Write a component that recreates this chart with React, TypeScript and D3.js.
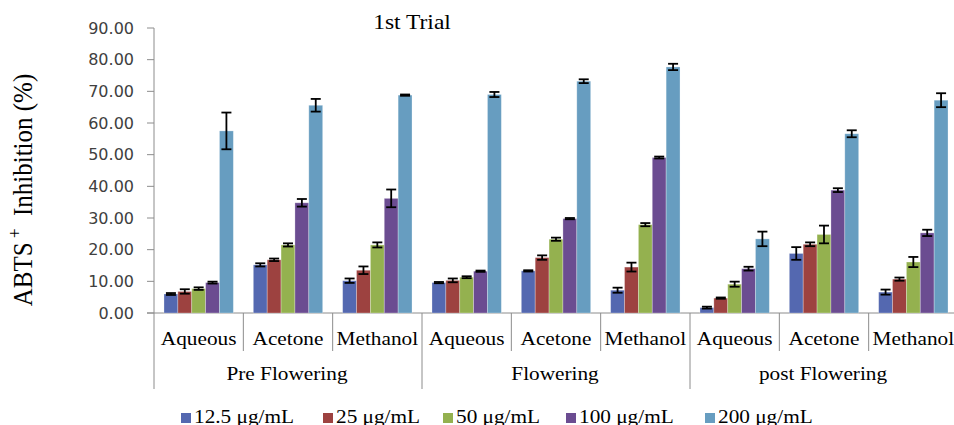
import React from "react";
import * as d3 from "d3";

const groups = ["Pre Flowering", "Flowering", "post Flowering"];
const solvents = ["Aqueous", "Acetone", "Methanol"];
const seriesNames = ["12.5 μg/mL", "25 μg/mL", "50 μg/mL", "100 μg/mL", "200 μg/mL"];
const yTicks = [0, 10, 20, 30, 40, 50, 60, 70, 80, 90];

const s12_5 = [6.0, 15.2, 10.2, 9.6, 13.3, 7.2, 1.7, 18.8, 6.6];
const s25 = [6.8, 16.8, 13.5, 10.3, 17.5, 14.5, 4.7, 21.7, 10.7];
const s50 = [7.7, 21.5, 21.5, 11.3, 23.3, 27.9, 9.1, 24.8, 16.1];
const s100 = [9.6, 34.8, 36.2, 13.2, 29.8, 49.1, 14.0, 38.8, 25.3];
const s200 = [57.5, 65.6, 68.8, 69.0, 73.2, 77.7, 23.4, 56.6, 67.2];

const e12_5 = [0.3, 0.5, 0.7, 0.2, 0.2, 0.8, 0.3, 2.0, 0.8];
const e25 = [0.7, 0.4, 1.2, 0.6, 0.7, 1.4, 0.2, 0.6, 0.5];
const e50 = [0.4, 0.5, 0.8, 0.3, 0.5, 0.5, 0.8, 2.8, 1.6];
const e100 = [0.3, 1.2, 2.8, 0.2, 0.2, 0.3, 0.6, 0.6, 1.0];
const e200 = [5.8, 2.0, 0.2, 0.8, 0.6, 1.0, 2.3, 1.1, 2.2];

const values = [s12_5, s25, s50, s100, s200];
const errors = [e12_5, e25, e50, e100, e200];
const colors = ["#5468B0", "#9D4240", "#94B14F", "#6B4C91", "#679DC0"];

const W = 954;
const H = 425;
const left = 154;
const right = 958;
const top = 28;
const bottom = 313;
const legendX = [181, 323, 443, 566, 705];
const SX = 1.12;

const serif = "'Liberation Serif', 'Times New Roman', serif";
const sans = "'DejaVu Sans', Verdana, sans-serif";

function T(props: { x: number; y: number; size: number; anchor?: string; children: React.ReactNode }) {
  return (
    <text
      transform={`translate(${props.x},${props.y}) scale(${SX},1)`}
      textAnchor={props.anchor || "start"}
      fontFamily={serif}
      fontSize={props.size}
      fill="#000"
    >
      {props.children}
    </text>
  );
}

export default function App() {
  const cats = groups.flatMap((g) => solvents.map((s) => g + "|" + s));
  const x = d3.scaleBand<string>().domain(cats).range([left, right]).paddingInner(0).paddingOuter(0);
  const bw = x.bandwidth();
  const xs = d3.scaleBand<string>().domain(seriesNames).range([0, bw]).paddingInner(0).paddingOuter(0.72);
  const y = d3.scaleLinear().domain([0, 90]).range([bottom, top]);
  const gx = d3.scaleBand<string>().domain(groups).range([left, right]);

  const axisColor = "#8c8c8c";

  return (
    <svg width={W} height={H} style={{ position: "absolute", left: 0, top: 0, background: "#fff" }}>
      <rect x={0} y={0} width={W} height={H} fill="#fff" />
      {/* title */}
      <T x={412} y={29} size={21} anchor="middle">1st Trial</T>
      {/* y axis title */}
      <text
        transform={`translate(32,${190}) scale(${SX},1) rotate(-90)`}
        textAnchor="middle"
        fontFamily={serif}
        fontSize={25}
        fill="#000"
      >
        ABTS
        <tspan fontSize={17} dy={-10}>{"\u00a0+"}</tspan>
        <tspan dy={10}>{"\u00a0 Inhibition (%)"}</tspan>
      </text>
      {/* y ticks */}
      {yTicks.map((t) => (
        <g key={t}>
          <line x1={left - 7} x2={left} y1={y(t)} y2={y(t)} stroke={axisColor} strokeWidth={1} />
          <text x={left - 20} y={y(t) + 5.5} textAnchor="end" fontFamily={sans} fontSize={16} fill="#404040">
            {t.toFixed(2)}
          </text>
        </g>
      ))}
      <line x1={left} x2={left} y1={top} y2={389} stroke={axisColor} strokeWidth={1} />
      <line x1={left - 7} x2={right} y1={bottom} y2={bottom} stroke={axisColor} strokeWidth={1} />
      {/* category separators */}
      {cats.map((c, i) =>
        i === 0 ? null : (
          <line
            key={c}
            x1={x(c)!}
            x2={x(c)!}
            y1={bottom}
            y2={i % 3 === 0 ? 389 : 351}
            stroke={axisColor}
            strokeWidth={1}
          />
        )
      )}
      {/* bars */}
      {seriesNames.map((s, si) => (
        <g key={s}>
          {cats.map((c, ci) => {
            const v = values[si][ci];
            const bx = x(c)! + xs(s)!;
            return (
              <rect
                key={c}
                x={bx}
                y={y(v)}
                width={xs.bandwidth()}
                height={bottom - y(v)}
                fill={colors[si]}
                stroke="#ffffff"
                strokeOpacity={0.35}
                strokeWidth={0.8}
              />
            );
          })}
        </g>
      ))}
      {/* error bars */}
      {seriesNames.map((s, si) => (
        <g key={s + "e"} stroke="#000" strokeWidth={1.8}>
          {cats.map((c, ci) => {
            const v = values[si][ci];
            const e = errors[si][ci];
            const cx = x(c)! + xs(s)! + xs.bandwidth() / 2;
            return (
              <g key={c}>
                <line x1={cx} x2={cx} y1={y(v + e)} y2={y(v - e)} />
                <line x1={cx - 5} x2={cx + 5} y1={y(v + e)} y2={y(v + e)} />
                <line x1={cx - 5} x2={cx + 5} y1={y(v - e)} y2={y(v - e)} />
              </g>
            );
          })}
        </g>
      ))}
      {/* category labels */}
      {cats.map((c) => (
        <T key={c + "l"} x={x(c)! + bw / 2} y={344.5} size={19} anchor="middle">
          {c.split("|")[1]}
        </T>
      ))}
      {groups.map((g) => (
        <T key={g} x={gx(g)! + gx.bandwidth() / 2 - 1} y={380} size={19} anchor="middle">
          {g}
        </T>
      ))}
      {/* legend */}
      {seriesNames.map((s, i) => (
        <g key={s + "leg"}>
          <rect x={legendX[i]} y={413} width={10} height={10} fill={colors[i]} />
          <T x={legendX[i] + 13} y={422.5} size={19}>
            {s}
          </T>
        </g>
      ))}
    </svg>
  );
}
